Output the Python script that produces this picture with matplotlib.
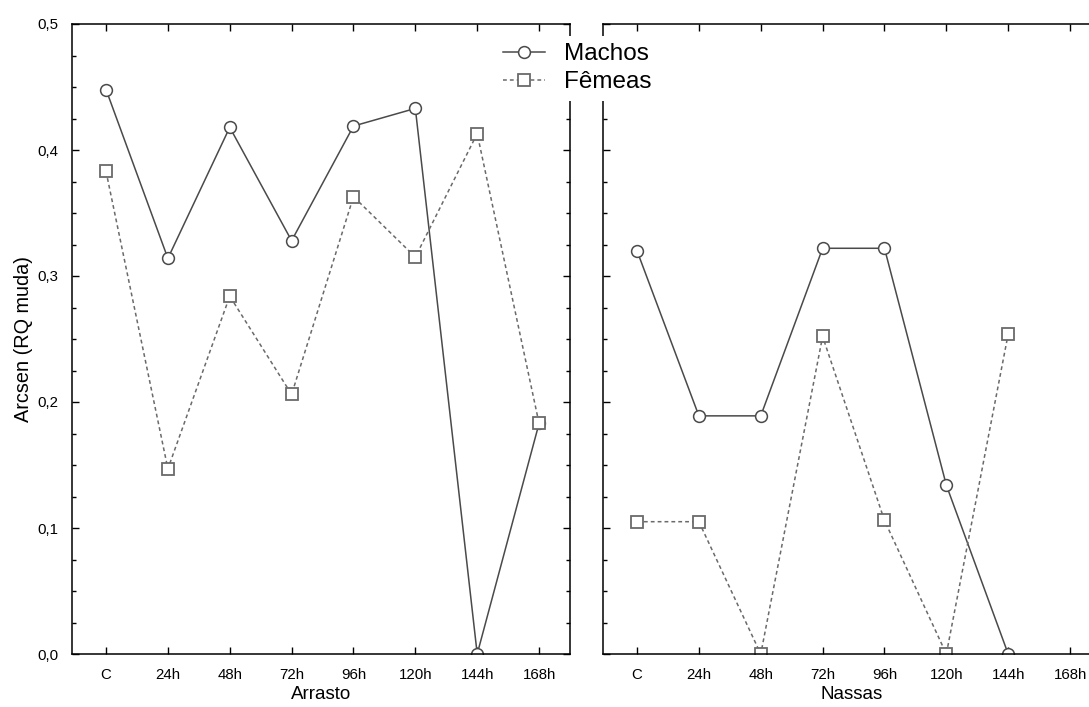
import numpy as np
import matplotlib.pyplot as plt
from matplotlib.ticker import MultipleLocator, FuncFormatter

plt.rcParams['font.family'] = ['Liberation Sans', 'DejaVu Sans']

# categories (time after capture)
cats = ["C", "24h", "48h", "72h", "96h", "120h", "144h", "168h"]

# Arrasto panel
arrasto_machos = [0.448, 0.314, 0.418, 0.328, 0.419, 0.433, 0.0, 0.183]
arrasto_femeas = [0.383, 0.147, 0.284, 0.206, 0.363, 0.315, 0.413, 0.183]

# Nassas panel (no value at 168h)
nassas_machos = [0.320, 0.189, 0.189, 0.322, 0.322, 0.134, 0.0, np.nan]
nassas_femeas = [0.105, 0.105, 0.0, 0.252, 0.106, 0.0, 0.254, np.nan]

W, H = 1089, 707
fig = plt.figure(figsize=(W / 100, H / 100), dpi=100)

# axes positions in pixels (left, top, right, bottom)
ax1 = fig.add_axes([72 / W, 1 - 654 / H, 498 / W, 630 / H])
ax2 = fig.add_axes([603 / W, 1 - 654 / H, 498 / W, 630 / H])

x = np.arange(len(cats))
m_style = dict(color="#4a4a4a", lw=1.1, ls="-", marker="o", ms=8.5,
               mfc="white", mec="#4a4a4a", mew=1.1)
f_style = dict(color="#6a6a6a", lw=1.1, ls=(0, (2.5, 2)), marker="s", ms=8.5,
               mfc="white", mec="#6a6a6a", mew=1.3)

for ax, mach, fem, name in [(ax1, arrasto_machos, arrasto_femeas, "Arrasto"),
                            (ax2, nassas_machos, nassas_femeas, "Nassas")]:
    ax.plot(x, mach, label="Machos", **m_style)
    ax.plot(x, fem, label="Fêmeas", **f_style)
    ax.set_xlim(-0.55, 7.5)
    ax.set_ylim(0, 0.5)
    ax.set_xticks(x)
    ax.set_xticklabels(cats)
    ax.yaxis.set_major_locator(MultipleLocator(0.1))
    ax.yaxis.set_minor_locator(MultipleLocator(0.025))
    ax.yaxis.set_major_formatter(FuncFormatter(lambda v, p: f"{v:.1f}".replace(".", ",")))
    ax.tick_params(which="both", direction="in", top=True, right=True,
                   labelsize=10.8, width=1, pad=10)
    ax.tick_params(which="major", length=5)
    ax.tick_params(which="minor", length=3)
    for s in ax.spines.values():
        s.set_linewidth(1.1)
    ax.set_xlabel(name, fontsize=13.5, labelpad=3)

ax1.set_ylabel("Arcsen (RQ muda)", fontsize=14.3, labelpad=3)
ax2.tick_params(labelleft=False)

handles, labels = ax1.get_legend_handles_labels()
leg = fig.legend(handles, labels, loc="upper left",
                 bbox_to_anchor=(496 / W, 1 - 36 / H), fontsize=17.5,
                 frameon=True, facecolor="white", edgecolor="none", framealpha=1,
                 fancybox=False, borderpad=0.3, borderaxespad=0,
                 handlelength=1.7, handletextpad=0.8, labelspacing=0.25)

fig.savefig("out.png", dpi=100)
